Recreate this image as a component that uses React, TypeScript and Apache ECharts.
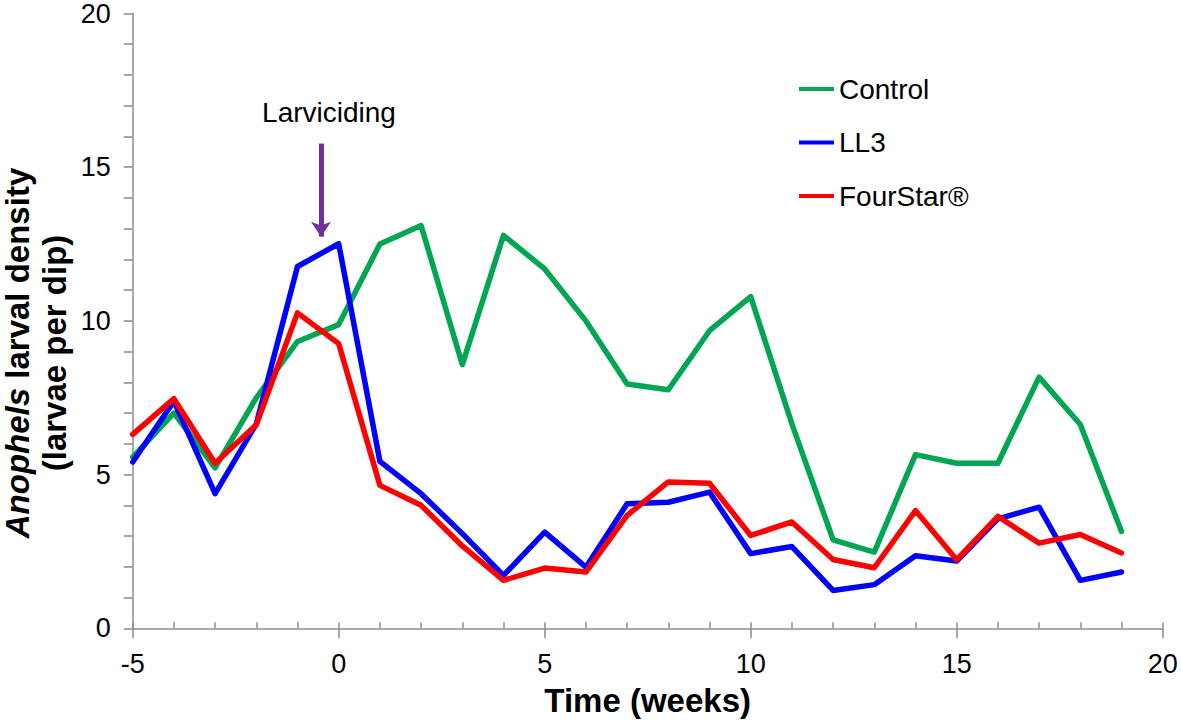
import React, { useEffect, useRef } from "react";
import * as echarts from "echarts";

const weeks = [-5, -4, -3, -2, -1, 0, 1, 2, 3, 4, 5, 6, 7, 8, 9, 10, 11, 12, 13, 14, 15, 16, 17, 18, 19];
const control = [5.57, 7.0, 5.22, 7.5, 9.33, 9.88, 12.5, 13.1, 8.58, 12.78, 11.69, 10.0, 7.95, 7.76, 9.68, 10.79, 6.65, 2.88, 2.48, 5.65, 5.37, 5.37, 8.17, 6.63, 3.15];
const ll3 = [5.41, 7.39, 4.38, 6.65, 11.77, 12.51, 5.43, 4.38, 3.08, 1.72, 3.13, 1.99, 4.05, 4.1, 4.43, 2.43, 2.66, 1.23, 1.42, 2.36, 2.19, 3.56, 3.94, 1.56, 1.83];
const fourStar = [6.31, 7.47, 5.37, 6.62, 10.26, 9.26, 4.65, 4.0, 2.68, 1.56, 1.96, 1.83, 3.67, 4.76, 4.72, 3.02, 3.46, 2.24, 1.97, 3.83, 2.23, 3.64, 2.77, 3.05, 2.45];
const seriesNames = ["Control", "LL3", "FourStar®"];
const seriesColors = ["#00A651", "#0000FF", "#FF0000"];
const arrowX = -0.43;
const arrowTop = 15.77;
const arrowTip = 12.74;

const FONT = '"Liberation Sans", Arial, sans-serif';
const AXIS_COLOR = "#8c8c8c";

export default function App() {
  const ref = useRef<HTMLDivElement>(null);
  useEffect(() => {
    if (!ref.current) return;
    const chart = echarts.init(ref.current, undefined, { renderer: "svg" });
    const datasets = [control, ll3, fourStar];
    const series: any[] = datasets.map((vals, i) => ({
      name: seriesNames[i],
      type: "line",
      xAxisIndex: 0,
      yAxisIndex: 0,
      data: weeks.map((w, j) => [w, vals[j]]),
      showSymbol: false,
      symbol: "none",
      lineStyle: { width: 5.5, color: seriesColors[i], join: "round", cap: "round" },
      itemStyle: { color: seriesColors[i] },
      z: 2 + i,
    }));
    series[0].markLine = {
      silent: true,
      symbol: ["none", "arrow"],
      symbolSize: 15,
      label: { show: false },
      lineStyle: { color: "#7030A0", width: 5, type: "solid" },
      itemStyle: { color: "#7030A0" },
      data: [[{ coord: [arrowX, arrowTop] }, { coord: [arrowX, arrowTip] }]],
    };
    chart.setOption({
      animation: false,
      backgroundColor: "#ffffff",
      textStyle: { fontFamily: FONT },
      grid: { left: 132.7, right: 18.3, top: 12.3, bottom: 96.7, containLabel: false },
      legend: {
        orient: "vertical",
        left: 794,
        top: 70,
        itemWidth: 35,
        itemHeight: 4,
        itemGap: 25.5,
        icon: "rect",
        data: seriesNames,
        textStyle: { fontSize: 28, color: "#000", fontFamily: FONT },
      },
      xAxis: [
        {
          type: "value",
          min: -5,
          max: 20,
          interval: 5,
          name: "Time (weeks)",
          nameLocation: "middle",
          nameGap: 56,
          nameTextStyle: { fontSize: 33, fontWeight: "bold", color: "#000", fontFamily: FONT },
          axisLine: { show: true, onZero: false, lineStyle: { color: AXIS_COLOR, width: 1.5 } },
          axisTick: { show: true, inside: false, length: 10, lineStyle: { color: AXIS_COLOR, width: 1.5 } },
          axisLabel: { fontSize: 27, color: "#000", margin: 22, fontFamily: FONT },
          splitLine: { show: false },
        },
        {
          type: "value",
          min: -5,
          max: 20,
          interval: 1,
          position: "bottom",
          axisLine: { show: false, onZero: false },
          axisTick: { show: true, inside: true, length: 6, lineStyle: { color: AXIS_COLOR, width: 1.5 } },
          axisLabel: { show: false },
          splitLine: { show: false },
        },
      ],
      yAxis: {
        type: "value",
        min: 0,
        max: 20,
        interval: 5,
        position: "left",
        axisLine: { show: true, onZero: false, lineStyle: { color: AXIS_COLOR, width: 1.5 } },
        axisTick: { show: true, inside: false, length: 9, lineStyle: { color: AXIS_COLOR, width: 1.5 } },
        minorTick: { show: true, splitNumber: 5, length: 9, lineStyle: { color: AXIS_COLOR, width: 1.5 } },
        axisLabel: { fontSize: 27, color: "#000", margin: 22, fontFamily: FONT },
        splitLine: { show: false },
      },
      graphic: [
        {
          type: "text",
          x: 329,
          y: 112,
          style: {
            text: "Larviciding",
            fontSize: 28,
            fontFamily: FONT,
            fill: "#000",
            textAlign: "center",
            textVerticalAlign: "middle",
          },
        },
        {
          type: "text",
          x: 36,
          y: 353,
          rotation: Math.PI / 2,
          style: {
            text: "{i|Anophels}{b| larval density}\n{b|(larvae per dip)}",
            fontFamily: FONT,
            fill: "#000",
            textAlign: "center",
            textVerticalAlign: "middle",
            rich: {
              i: { fontSize: 33, fontWeight: "bold", fontStyle: "italic", fontFamily: FONT, lineHeight: 37, fill: "#000" },
              b: { fontSize: 33, fontWeight: "bold", fontFamily: FONT, lineHeight: 37, fill: "#000" },
            },
          },
        },
      ],
      series,
    });
    return () => chart.dispose();
  }, []);
  return (
    <div
      ref={ref}
      style={{ position: "fixed", left: 0, top: 0, width: 1181, height: 725, background: "#fff" }}
    />
  );
}
